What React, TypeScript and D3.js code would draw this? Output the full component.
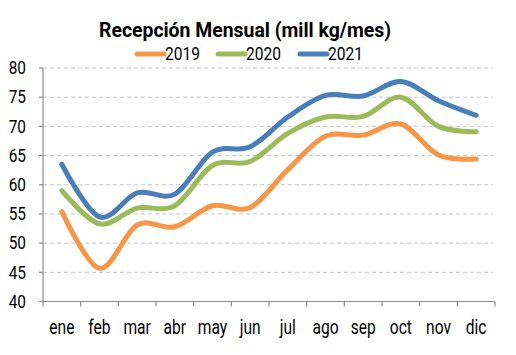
import React from "react";
import * as d3 from "d3";

const months = ["ene", "feb", "mar", "abr", "may", "jun", "jul", "ago", "sep", "oct", "nov", "dic"];
const years = ["2019", "2020", "2021"];
const colors = ["#F79646", "#9BBB59", "#4A7EBB"];
const values2019 = [55.4, 45.7, 53.1, 52.8, 56.4, 56.1, 62.6, 68.3, 68.5, 70.4, 65.1, 64.4];
const values2020 = [59.0, 53.3, 56.0, 56.4, 63.3, 64.0, 68.8, 71.6, 71.7, 75.0, 70.0, 69.1];
const values2021 = [63.5, 54.5, 58.6, 58.4, 65.6, 66.5, 71.6, 75.3, 75.2, 77.7, 74.4, 71.9];
const yTicks = [40, 45, 50, 55, 60, 65, 70, 75, 80];
const title = "Recepción Mensual (mill kg/mes)";

const series = [values2019, values2020, values2021];

export default function App() {
  const W = 516, H = 355;
  const left = 43, right = 495, top = 68, bottom = 301.5;
  const x = d3.scaleBand<string>().domain(months).range([left, right]);
  const y = d3.scaleLinear().domain([40, 80]).range([bottom, top]);
  const line = d3
    .line<number>()
    .x((_, i) => (x(months[i]) as number) + x.bandwidth() / 2)
    .y((d) => y(d))
    .curve(d3.curveCatmullRom.alpha(0));
  const font = "Roboto, 'Liberation Sans', sans-serif";
  const legendItems = [
    { lx: 137, tx: 165 },
    { lx: 218, tx: 246 },
    { lx: 300, tx: 328 },
  ];
  const ylx = 26;
  return (
    <svg width={W} height={H} style={{ position: "absolute", left: 0, top: 0, background: "#fff" }} fontFamily={font}>
      <text
        x={99}
        y={37}
        fontSize={20}
        fontWeight="bold"
        textLength={292}
        lengthAdjust="spacingAndGlyphs"
        fill="#000"
      >
        {title}
      </text>
      {years.map((yr, i) => (
        <g key={yr}>
          <line x1={legendItems[i].lx} x2={legendItems[i].lx + 27} y1={54} y2={54} stroke={colors[i]} strokeWidth={5} strokeLinecap="round" />
          <text x={legendItems[i].tx} y={60} fontSize={17.5} textLength={35} lengthAdjust="spacingAndGlyphs" fill="#000">
            {yr}
          </text>
        </g>
      ))}
      {yTicks.filter((t) => t > 40).map((t) => (
        <line key={"g" + t} x1={left} x2={493} y1={y(t)} y2={y(t)} stroke="#c4c4c4" strokeWidth={1} strokeDasharray="4,3" />
      ))}
      <line x1={left} x2={left} y1={top} y2={bottom} stroke="#8c8c8c" strokeWidth={1.2} />
      <line x1={left} x2={right} y1={bottom} y2={bottom} stroke="#8c8c8c" strokeWidth={1.2} />
      {yTicks.map((t) => (
        <g key={"y" + t}>
          <line x1={left - 4} x2={left} y1={y(t)} y2={y(t)} stroke="#8c8c8c" strokeWidth={1.2} />
          <text x={ylx} y={y(t)} dy="0.36em" textAnchor="end" fontSize={17.5} fill="#000" transform={`translate(${ylx},0) scale(0.88,1) translate(${-ylx},0)`}>
            {t}
          </text>
        </g>
      ))}
      {[...months.map((m) => x(m) as number), right].map((px, i) => (
        <line key={"xt" + i} x1={px} x2={px} y1={bottom} y2={bottom + 5} stroke="#8c8c8c" strokeWidth={1.2} />
      ))}
      {months.map((m) => {
        const cx = (x(m) as number) + x.bandwidth() / 2;
        return (
          <text key={m} x={cx} y={334} textAnchor="middle" fontSize={19.5} fill="#000" transform={`translate(${cx},0) scale(0.8,1) translate(${-cx},0)`}>
            {m}
          </text>
        );
      })}
      {series.map((s, i) => (
        <path key={i} d={line(s) || ""} fill="none" stroke={colors[i]} strokeWidth={5} strokeLinecap="round" strokeLinejoin="round" />
      ))}
    </svg>
  );
}
